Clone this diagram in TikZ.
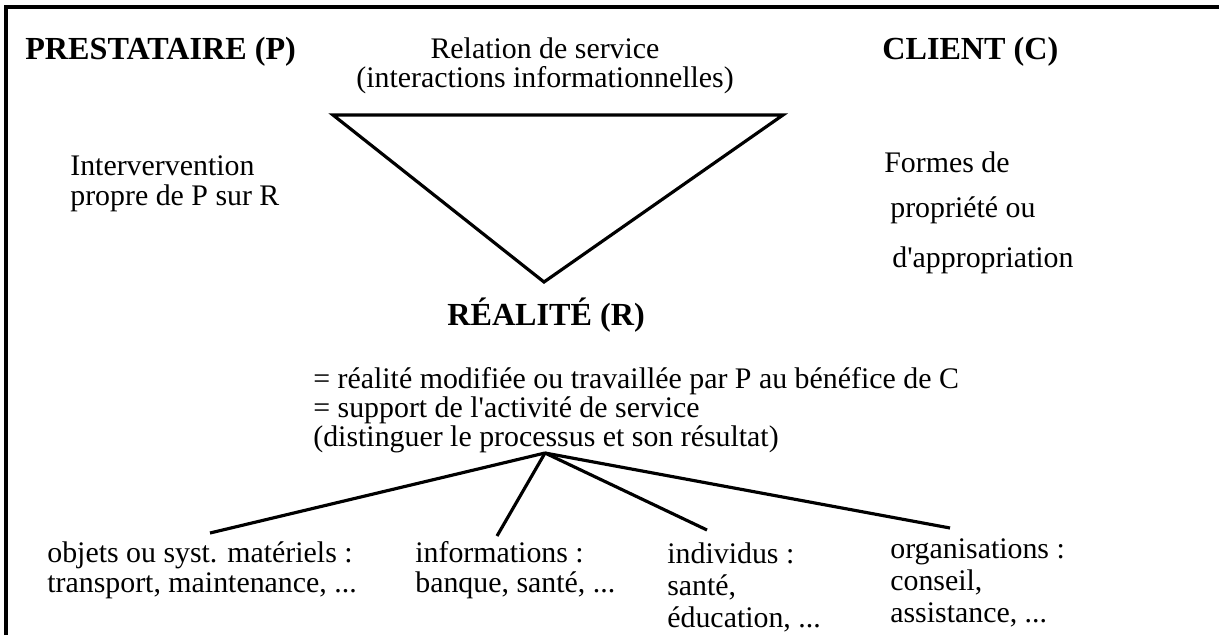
\documentclass[tikz,border=0pt]{standalone}
\usepackage{fontspec}
\setmainfont{Liberation Serif}
\begin{document}
\begin{tikzpicture}[x=0.02cm,y=-0.02cm,
% common options for the texts (base = last line):
txt/.style = {inner sep=0, anchor=base west, align=left,
            font=\fontsize{17}{17}\selectfont},
% common options for the bold titles:
ttl/.style = {inner sep=0, anchor=base west,
            font=\fontsize{18.3}{20}\selectfont\bfseries},
% lines of frame, triangle and tree:
edge/.style = {line width=1.8pt}]
\useasboundingbox (0,0) rectangle (1219,635);
\draw[edge] (6,635) -- (6,7) -- (1219,7);
\node[ttl] (P0) at (25,60) {PRESTATAIRE (P)};
\node[txt,anchor=base,align=center] (S0) at (545,88) {Relation de service\\(interactions informationnelles)};
\node[ttl] (C0) at (882,60) {CLIENT (C)};
\node[txt] (P1) at (70,205) {Intervervention\\propre de P sur R};
\node[txt] (C1) at (884,172) {Formes de};
\node[txt] (C2) at (890,217) {propriété ou};
\node[txt] (C3) at (892,267) {d\textquotesingle appropriation};
\node[ttl] (R0) at (447,325) {RÉALITÉ (R)};
\node[txt,font=\fontsize{17}{16.5}\selectfont] (R1) at (313,446) {= réalité modifiée ou travaillée par P au bénéfice de C\\= support de l\textquotesingle activité de service\\(distinguer le processus et son résultat)};
\node[txt] (B1) at (47,592) {objets ou syst. matériels :\\transport, maintenance, ...};
\node[txt] (B2) at (415,592) {informations :\\banque, santé, ...};
\node[txt,font=\fontsize{17}{18.2}\selectfont] (B3) at (667,627) {individus :\\santé,\\éducation, ...};
\node[txt,font=\fontsize{17}{18.2}\selectfont] (B4) at (890,622) {organisations :\\conseil,\\assistance, ...};
\draw[edge] (333,115) -- (783,115) -- (544,282) -- cycle;
\coordinate (H) at (545,453);
\coordinate (E1) at (210,533);
\coordinate (E2) at (497,536);
\coordinate (E3) at (707,530);
\coordinate (E4) at (950,528);
\foreach \e in {E1,E2,E3,E4}
  \draw[edge] (H) -- (\e);
\end{tikzpicture}
\end{document}
